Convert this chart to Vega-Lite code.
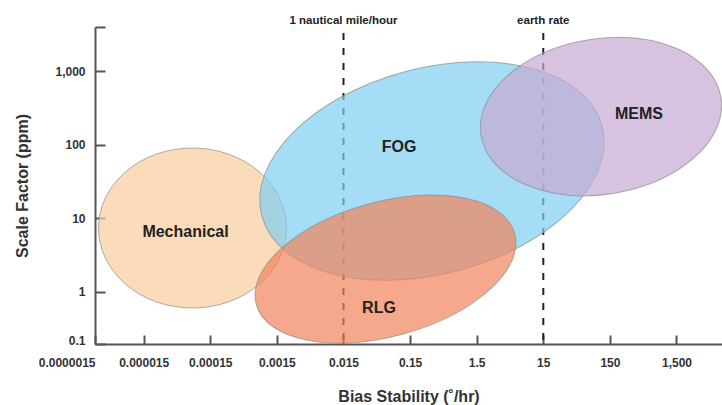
{
  "$schema": "https://vega.github.io/schema/vega-lite/v6.json",
  "width": 627,
  "height": 317,
  "autosize": {"type": "none"},
  "padding": {"left": 95, "top": 27, "right": 0, "bottom": 61},
  "background": "white",
  "config": {"view": {"stroke": null}},
  "datasets": {
    "ellipses": [
      {"tech": "Mechanical", "bias": 0.0000811, "scale": 7.39},
      {"tech": "FOG", "bias": 0.32, "scale": 43.9},
      {"tech": "RLG", "bias": 0.0641, "scale": 2.05},
      {"tech": "MEMS", "bias": 110.3, "scale": 241}
    ],
    "labels": [
      {"tech": "Mechanical", "bias": 0.0000637, "scale": 6.53},
      {"tech": "FOG", "bias": 0.1022, "scale": 93},
      {"tech": "RLG", "bias": 0.0512, "scale": 0.607},
      {"tech": "MEMS", "bias": 410, "scale": 261}
    ],
    "refs": [
      {"bias": 0.015, "label": "1 nautical mile/hour", "top": 3280, "bottom": 0.1968, "text_at": 4345},
      {"bias": 15, "label": "earth rate", "top": 3280, "bottom": 0.1968, "text_at": 4345}
    ]
  },
  "layer": [
    {
      "data": {"name": "refs"},
      "mark": {"type": "rule", "color": "#222222", "strokeWidth": 2, "strokeDash": [7, 8]},
      "encoding": {
        "x": {
          "field": "bias",
          "type": "quantitative",
          "scale": {"type": "log", "domain": [0.000002786, 7234], "nice": false},
          "axis": {
            "title": "Bias Stability (˚/hr)",
            "values": [0.000002786, 0.000015, 0.00015, 0.0015, 0.015, 0.15, 1.5, 15, 150, 1500],
            "labelExpr": "datum.value < 0.000003 ? '0.0000015' : format(datum.value, ',~r')",
            "labelAlign": {"condition": {"test": "datum.value < 0.000003", "value": "right"}, "value": "center"},
            "labelFlush": false,
            "labelOverlap": false,
            "labelBound": false,
            "grid": false,
            "domainColor": "#555555",
            "domainWidth": 2,
            "tickColor": "#555555",
            "tickWidth": 2,
            "tickSize": -9,
            "labelPadding": 22,
            "labelFont": "Liberation Sans",
            "labelFontWeight": "bold",
            "labelFontSize": 12,
            "labelColor": "#333333",
            "titleFont": "Liberation Sans",
            "titleFontWeight": "bold",
            "titleFontSize": 16,
            "titleColor": "#333333",
            "titleBaseline": "alphabetic",
            "titleY": 57
          }
        },
        "y": {
          "field": "top",
          "type": "quantitative",
          "scale": {"type": "log", "domain": [0.1968, 3957], "nice": false},
          "axis": {
            "title": "Scale Factor (ppm)",
            "values": [0.1968, 1, 10, 100, 1000, 3957],
            "labelExpr": "datum.value < 0.5 ? '0.1' : datum.value > 3000 ? '' : format(datum.value, ',')",
            "labelOffset": {"condition": {"test": "datum.value < 0.5", "value": -4}, "value": 0},
            "labelOverlap": false,
            "labelBound": false,
            "labelFlush": false,
            "grid": false,
            "domainColor": "#555555",
            "domainWidth": 2,
            "tickColor": "#555555",
            "tickWidth": 2,
            "tickSize": -10,
            "labelPadding": 20,
            "labelFont": "Liberation Sans",
            "labelFontWeight": "bold",
            "labelFontSize": 12,
            "labelColor": "#333333",
            "titleFont": "Liberation Sans",
            "titleFontWeight": "bold",
            "titleFontSize": 16,
            "titleColor": "#333333",
            "titleBaseline": "alphabetic",
            "titleX": -68
          }
        },
        "y2": {"field": "bottom"}
      }
    },
    {
      "data": {"name": "refs"},
      "mark": {"type": "text", "font": "Liberation Sans", "fontWeight": "bold", "fontSize": 11.5, "color": "#222222", "align": "center", "baseline": "alphabetic"},
      "encoding": {
        "x": {"field": "bias", "type": "quantitative"},
        "y": {"field": "text_at", "type": "quantitative"},
        "text": {"field": "label"}
      }
    },
    {
      "data": {"name": "ellipses"},
      "transform": [{"filter": "datum.tech === 'Mechanical'"}],
      "mark": {"type": "point", "filled": true, "fill": "#F8CC9C", "fillOpacity": 0.7, "stroke": "#8c8c8c", "strokeWidth": 1, "strokeOpacity": 0.7, "size": 35344, "angle": 0,
        "shape": "M1,0C1,0.470 0.5523,0.851 0,0.851C-0.5523,0.851 -1,0.470 -1,0C-1,-0.470 -0.5523,-0.851 0,-0.851C0.5523,-0.851 1,-0.470 1,0Z"},
      "encoding": {
        "x": {"field": "bias", "type": "quantitative"},
        "y": {"field": "scale", "type": "quantitative"}
      }
    },
    {
      "data": {"name": "ellipses"},
      "transform": [{"filter": "datum.tech === 'FOG'"}],
      "mark": {"type": "point", "filled": true, "fill": "#7ECEF1", "fillOpacity": 0.7, "stroke": "#8c8c8c", "strokeWidth": 1, "strokeOpacity": 0.7, "size": 123904, "angle": -14.8,
        "shape": "M1,0C1,0.3231 0.5523,0.585 0,0.585C-0.5523,0.585 -1,0.3231 -1,0C-1,-0.3231 -0.5523,-0.585 0,-0.585C0.5523,-0.585 1,-0.3231 1,0Z"},
      "encoding": {
        "x": {"field": "bias", "type": "quantitative"},
        "y": {"field": "scale", "type": "quantitative"}
      }
    },
    {
      "data": {"name": "ellipses"},
      "transform": [{"filter": "datum.tech === 'RLG'"}],
      "mark": {"type": "point", "filled": true, "fill": "#F1835B", "fillOpacity": 0.7, "stroke": "#8c8c8c", "strokeWidth": 1, "strokeOpacity": 0.7, "size": 71824, "angle": -15.35,
        "shape": "M1,0C1,0.2773 0.5523,0.502 0,0.502C-0.5523,0.502 -1,0.2773 -1,0C-1,-0.2773 -0.5523,-0.502 0,-0.502C0.5523,-0.502 1,-0.2773 1,0Z"},
      "encoding": {
        "x": {"field": "bias", "type": "quantitative"},
        "y": {"field": "scale", "type": "quantitative"}
      }
    },
    {
      "data": {"name": "ellipses"},
      "transform": [{"filter": "datum.tech === 'MEMS'"}],
      "mark": {"type": "point", "filled": true, "fill": "#C6A9D1", "fillOpacity": 0.7, "stroke": "#8c8c8c", "strokeWidth": 1, "strokeOpacity": 0.7, "size": 59000, "angle": -9,
        "shape": "M1,0C1,0.354 0.5523,0.641 0,0.641C-0.5523,0.641 -1,0.354 -1,0C-1,-0.354 -0.5523,-0.641 0,-0.641C0.5523,-0.641 1,-0.354 1,0Z"},
      "encoding": {
        "x": {"field": "bias", "type": "quantitative"},
        "y": {"field": "scale", "type": "quantitative"}
      }
    },
    {
      "data": {"name": "labels"},
      "mark": {"type": "text", "font": "Liberation Sans", "fontWeight": "bold", "fontSize": 16, "color": "#222222", "align": "center", "baseline": "middle"},
      "encoding": {
        "x": {"field": "bias", "type": "quantitative"},
        "y": {"field": "scale", "type": "quantitative"},
        "text": {"field": "tech"}
      }
    }
  ]
}
